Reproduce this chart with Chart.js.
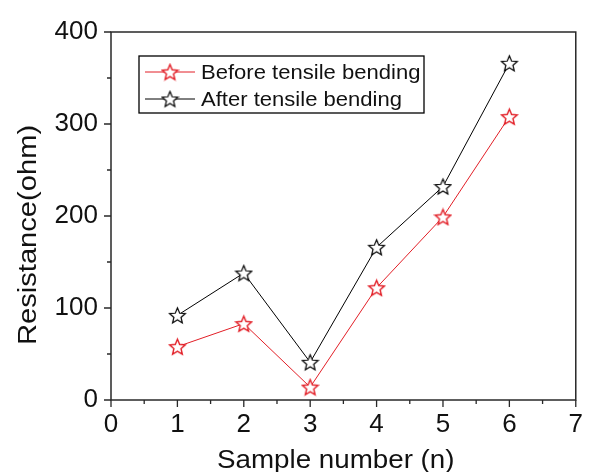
<!DOCTYPE html>
<html>
<head>
<meta charset="utf-8">
<script src="https://cdn.jsdelivr.net/npm/chart.js@4/dist/chart.umd.min.js"></script>
<style>
  html, body { margin: 0; padding: 0; background: #fff; }
  #wrap { width: 592px; height: 472px; }
</style>
</head>
<body>
<div id="wrap"><canvas id="grafica" width="592" height="472"></canvas></div>
<script>
const sampleNumbers = [1, 2, 3, 4, 5, 6];
const beforeBending = [58, 83, 14, 122, 199, 308];
const afterBending = [92, 138, 41, 166, 232, 366];
const seriesNames = ['Before tensile bending', 'After tensile bending'];
const xTicks = [0, 1, 2, 3, 4, 5, 6, 7];
const yTicks = [0, 100, 200, 300, 400];
const xTitle = 'Sample number (n)';
const yTitle = 'Resistance(ohm)';

const rojo = 'rgb(226, 30, 38)';
const negro = 'rgb(0, 0, 0)';
const ejes = 'rgb(40, 40, 40)';
const fuente = '"Liberation Sans", Arial, sans-serif';

// estrella hueca de 5 puntas como imagen para pointStyle
function hacerEstrella(color, size, grosor) {
    const c = document.createElement('canvas');
    c.width = size;
    c.height = size;
    const g = c.getContext('2d');
    const cx = size / 2, cy = size / 2 + 0.8;
    const rOut = size / 2 - 1.2, rIn = rOut * 0.45;
    g.beginPath();
    for (let i = 0; i < 10; i++) {
        const r = i % 2 == 0 ? rOut : rIn;
        const a = -Math.PI / 2 + i * Math.PI / 5;
        const px = cx + r * Math.cos(a), py = cy + r * Math.sin(a);
        if (i == 0) g.moveTo(px, py); else g.lineTo(px, py);
    }
    g.closePath();
    g.fillStyle = '#fff';
    g.fill();
    g.lineWidth = grosor;
    g.strokeStyle = color;
    g.stroke();
    return c;
}

const estrellaRoja = hacerEstrella(rojo, 19, 1.4);
const estrellaNegra = hacerEstrella(negro, 19, 1.2);

function puntos(valores) {
    let arr = [];
    for (let i = 0; i < sampleNumbers.length; i++) {
        arr.push({ x: sampleNumbers[i], y: valores[i] });
    }
    return arr;
}

// texto algo estirado en horizontal, como en la figura original
function textoAncho(ctx, texto, x, y, estira) {
    ctx.save();
    ctx.translate(x, y);
    ctx.scale(estira, 1);
    ctx.fillText(texto, 0, 0);
    ctx.restore();
}

// marco, ticks mayores/menores, titulos de ejes y leyenda
const extras = {
    id: 'extras',
    afterDraw(chart) {
        const ctx = chart.ctx;
        const a = chart.chartArea;
        const sx = chart.scales.x, sy = chart.scales.y;
        ctx.save();
        ctx.strokeStyle = ejes;
        ctx.lineWidth = 1.5;
        ctx.strokeRect(a.left, a.top, a.right - a.left, a.bottom - a.top);

        ctx.lineWidth = 1.3;
        ctx.beginPath();
        for (let v = 0; v <= 7; v += 0.5) {
            const px = sx.getPixelForValue(v);
            const len = Number.isInteger(v) ? 7 : 4;
            ctx.moveTo(px, a.bottom);
            ctx.lineTo(px, a.bottom + len);
        }
        for (let v = 0; v <= 400; v += 50) {
            const py = sy.getPixelForValue(v);
            const len = v % 100 == 0 ? 7 : 4;
            ctx.moveTo(a.left, py);
            ctx.lineTo(a.left - len, py);
        }
        ctx.stroke();

        // titulos
        ctx.fillStyle = '#111';
        ctx.font = '25px ' + fuente;
        ctx.textAlign = 'left';
        ctx.textBaseline = 'alphabetic';
        textoAncho(ctx, xTitle, a.left + 106, 468, 1.11);
        ctx.save();
        ctx.translate(36, a.top + 313);
        ctx.rotate(-Math.PI / 2);
        ctx.font = '26px ' + fuente;
        textoAncho(ctx, yTitle, 0, 0, 1.12);
        ctx.restore();

        // leyenda
        const bx = a.left + 28, by = a.top + 24, bw = 285, bh = 57;
        ctx.lineWidth = 1.3;
        ctx.strokeStyle = negro;
        ctx.strokeRect(bx, by, bw, bh);
        const filas = [
            { color: rojo, img: estrellaRoja, texto: seriesNames[0] },
            { color: negro, img: estrellaNegra, texto: seriesNames[1] }
        ];
        ctx.font = '21px ' + fuente;
        ctx.textBaseline = 'middle';
        for (let i = 0; i < filas.length; i++) {
            const y = by + 16 + i * 27;
            ctx.strokeStyle = filas[i].color;
            ctx.lineWidth = 1;
            ctx.beginPath();
            ctx.moveTo(bx + 6, y);
            ctx.lineTo(bx + 56, y);
            ctx.stroke();
            ctx.drawImage(filas[i].img, bx + 31 - 9.5, y - 9.5);
            ctx.fillStyle = '#111';
            textoAncho(ctx, filas[i].texto, bx + 62, y + 1, 1.05);
        }
        ctx.restore();
    }
};

window.onload = function () {
    const ctx = document.getElementById('grafica');
    new Chart(ctx, {
        type: 'scatter',
        data: {
            datasets: [{
                label: seriesNames[0],
                data: puntos(beforeBending),
                showLine: true,
                borderColor: rojo,
                borderWidth: 1,
                pointStyle: estrellaRoja
            }, {
                label: seriesNames[1],
                data: puntos(afterBending),
                showLine: true,
                borderColor: negro,
                borderWidth: 1,
                pointStyle: estrellaNegra
            }]
        },
        options: {
            responsive: false,
            animation: false,
            layout: { padding: { top: 32, right: 7, left: 0, bottom: 0 } },
            plugins: {
                legend: { display: false },
                tooltip: { enabled: false }
            },
            scales: {
                x: {
                    type: 'linear',
                    min: 0,
                    max: 7,
                    afterFit: function (scale) { scale.height = 72; },
                    afterBuildTicks: function (scale) {
                        scale.ticks = xTicks.map(v => ({ value: v }));
                    },
                    grid: { display: false, drawTicks: false },
                    border: { display: false },
                    ticks: {
                        padding: 9,
                        color: '#111',
                        font: { family: fuente, size: 26 }
                    }
                },
                y: {
                    min: 0,
                    max: 400,
                    afterFit: function (scale) { scale.width = 111; },
                    afterBuildTicks: function (scale) {
                        scale.ticks = yTicks.map(v => ({ value: v }));
                    },
                    grid: { display: false, drawTicks: false },
                    border: { display: false },
                    ticks: {
                        padding: 13,
                        color: '#111',
                        font: { family: fuente, size: 26 }
                    }
                }
            }
        },
        plugins: [extras]
    });
};
</script>
</body>
</html>
